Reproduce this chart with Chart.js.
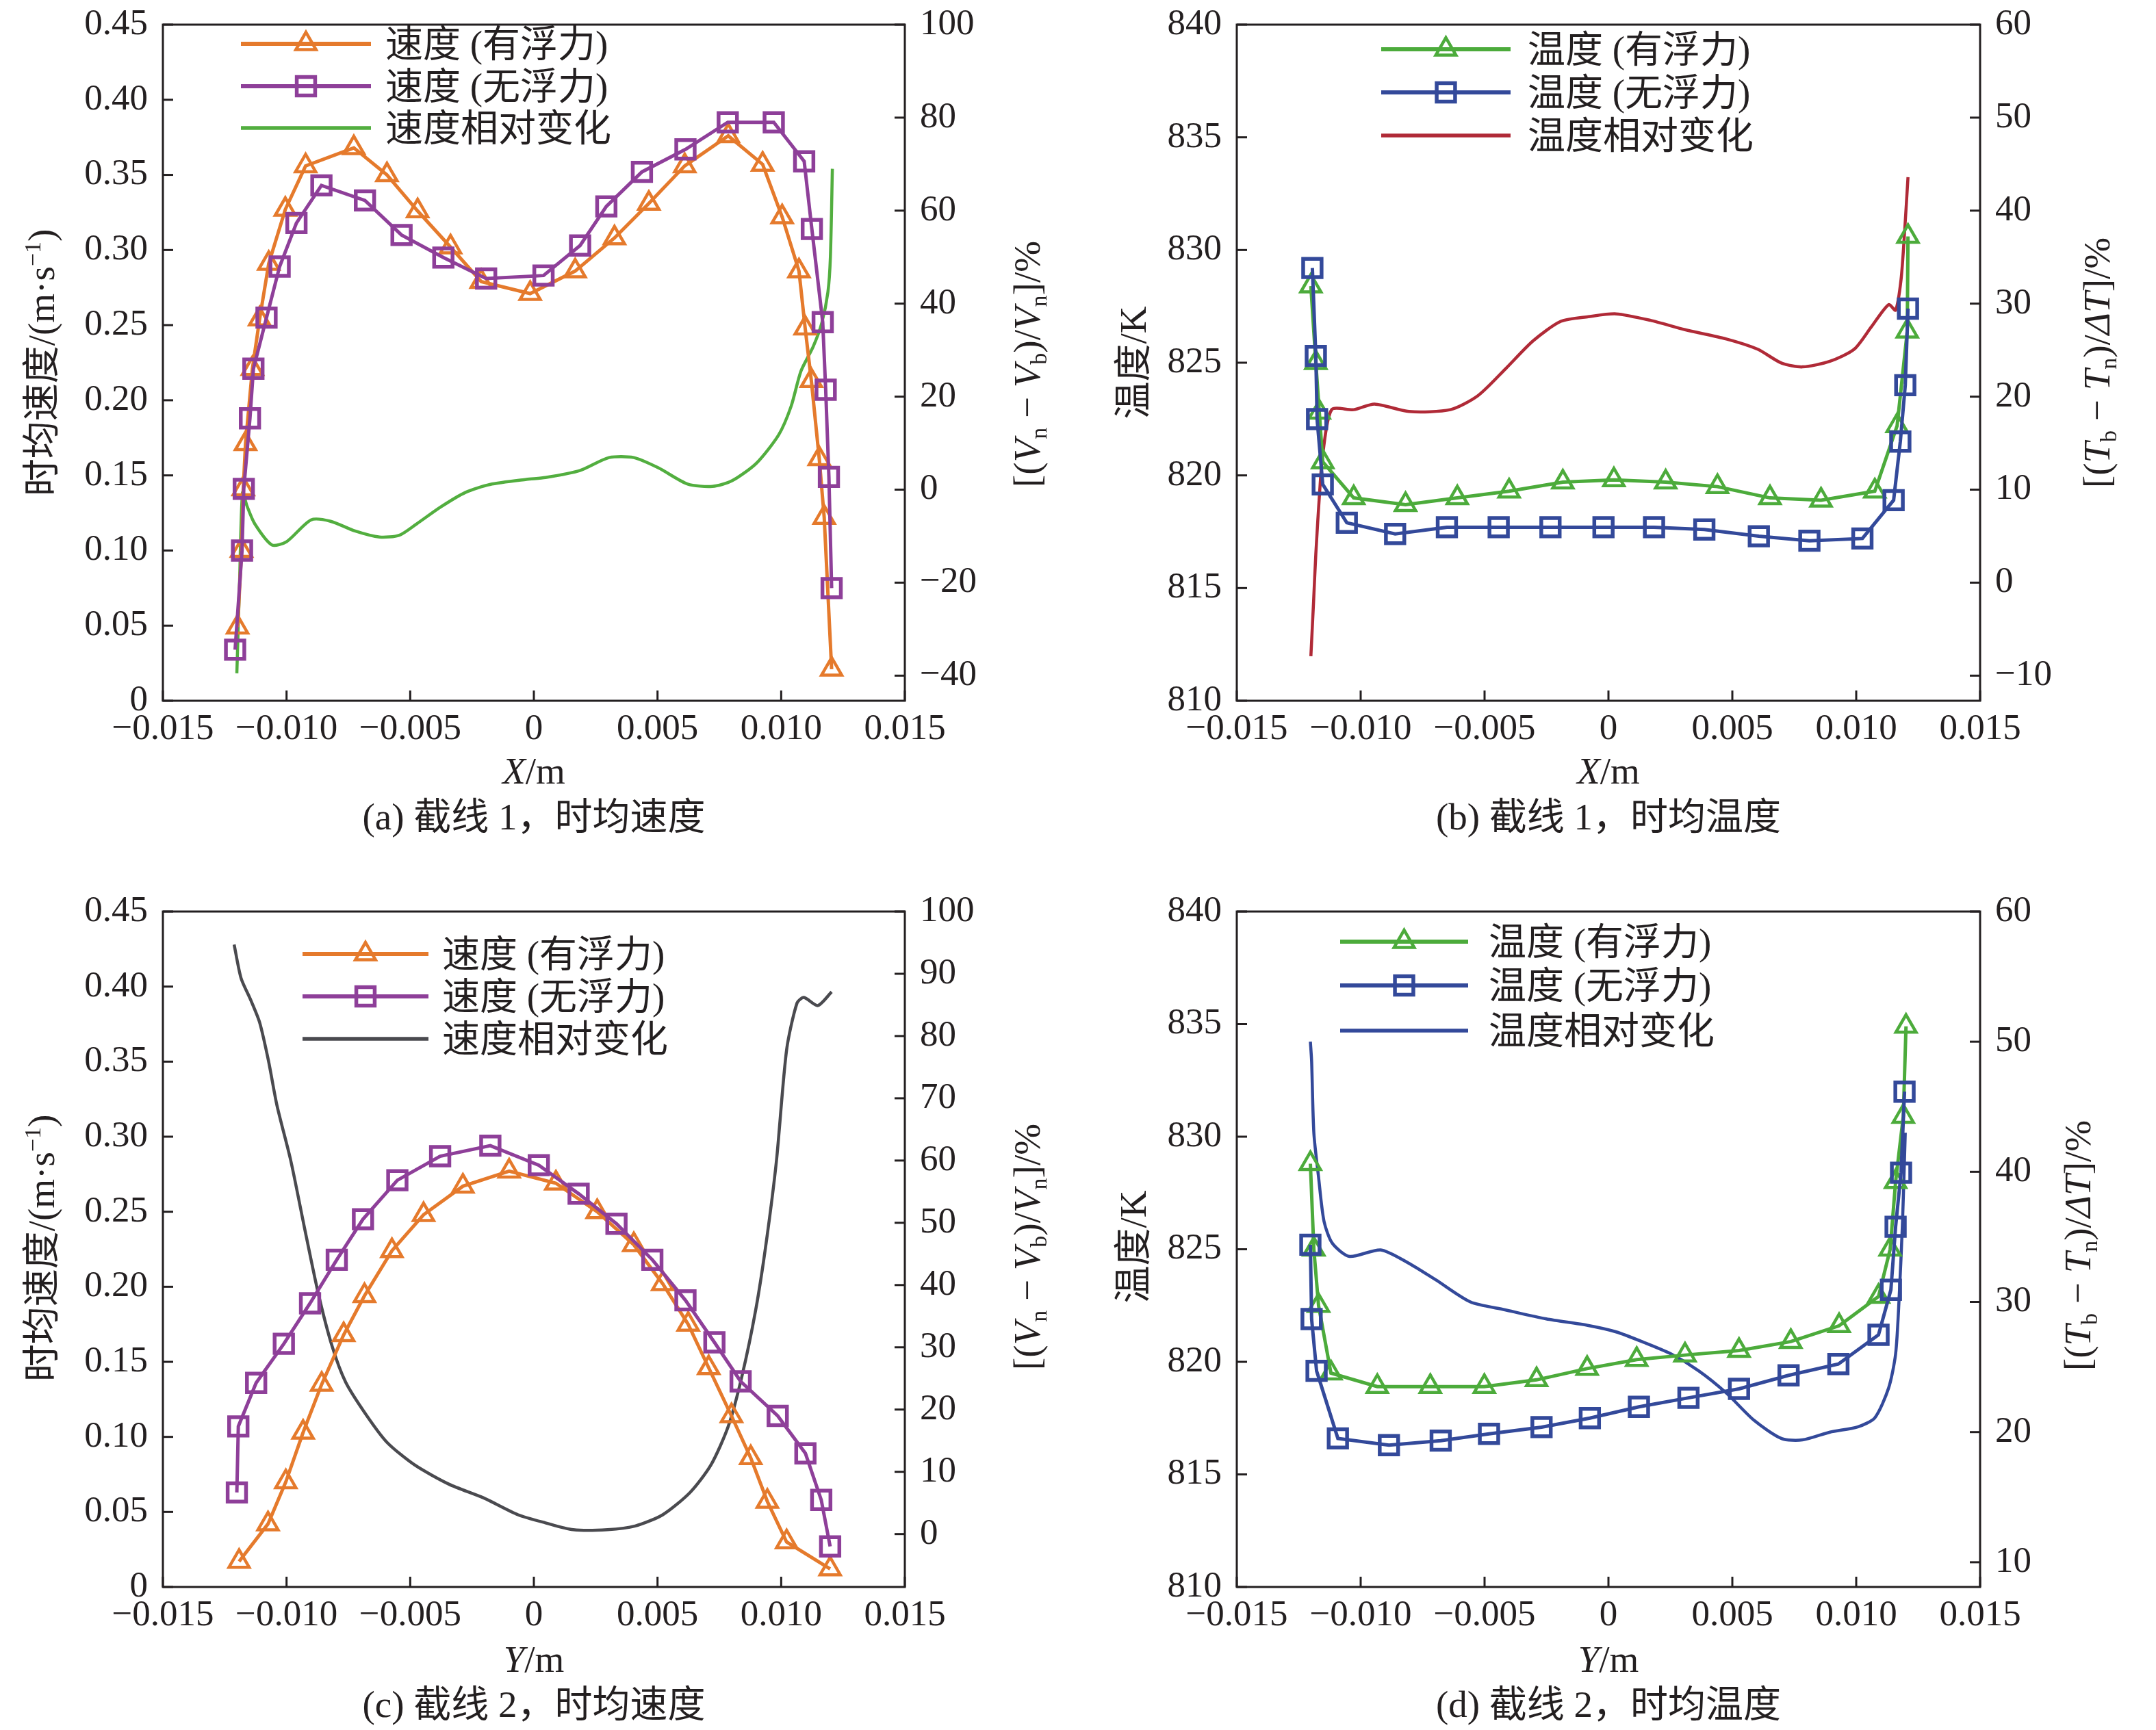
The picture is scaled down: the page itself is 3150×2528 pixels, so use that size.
<!DOCTYPE html>
<html>
<head>
<meta charset="utf-8">
<script src="https://cdn.jsdelivr.net/npm/chart.js@4.4.1/dist/chart.umd.min.js"></script>
<style>
  html, body { margin: 0; padding: 0; background: #fff; }
  body { width: 3150px; height: 2528px; position: relative; overflow: hidden; }
  .panel { position: absolute; width: 1575px; height: 1264px; }
  canvas { display: block; }
</style>
</head>
<body>
<div class="panel" style="left:0;top:0"><canvas id="pa" width="1575" height="1264"></canvas></div>
<div class="panel" style="left:1575px;top:0"><canvas id="pb" width="1575" height="1264"></canvas></div>
<div class="panel" style="left:0;top:1264px"><canvas id="pc" width="1575" height="1264"></canvas></div>
<div class="panel" style="left:1575px;top:1264px"><canvas id="pd" width="1575" height="1264"></canvas></div>
<script>
// ---------------- DATA ----------------
const xTicks = [-0.015, -0.010, -0.005, 0, 0.005, 0.010, 0.015];
const velTicks = [0, 0.05, 0.10, 0.15, 0.20, 0.25, 0.30, 0.35, 0.40, 0.45];
const tempTicks = [810, 815, 820, 825, 830, 835, 840];
const aPctTicks = [-40, -20, 0, 20, 40, 60, 80, 100];
const bPctTicks = [-10, 0, 10, 20, 30, 40, 50, 60];
const cPctTicks = [0, 10, 20, 30, 40, 50, 60, 70, 80, 90, 100];
const dPctTicks = [10, 20, 30, 40, 50, 60];

const velLabels = ['速度 (有浮力)', '速度 (无浮力)', '速度相对变化'];
const tempLabels = ['温度 (有浮力)', '温度 (无浮力)', '温度相对变化'];
const captions = ['(a) 截线 1，时均速度', '(b) 截线 1，时均温度', '(c) 截线 2，时均速度', '(d) 截线 2，时均温度'];

// (a) section 1, velocity
const aBuoyX = [-0.01198, -0.01182, -0.01175, -0.01166, -0.01138, -0.01109, -0.01072, -0.01005, -0.00923, -0.00728, -0.00594, -0.00470, -0.00337, -0.00213, -0.00015, 0.00167, 0.00326, 0.00465, 0.00610, 0.00786, 0.00925, 0.01004, 0.01072, 0.01097, 0.01122, 0.01154, 0.01174, 0.01204];
const aBuoyV = [0.049, 0.100, 0.141, 0.171, 0.221, 0.254, 0.291, 0.327, 0.356, 0.368, 0.350, 0.326, 0.302, 0.279, 0.271, 0.286, 0.308, 0.331, 0.356, 0.376, 0.357, 0.322, 0.286, 0.248, 0.213, 0.161, 0.122, 0.021];
const aNoBuoyX = [-0.01208, -0.01180, -0.01173, -0.01148, -0.01134, -0.01081, -0.01028, -0.00960, -0.00859, -0.00683, -0.00535, -0.00366, -0.00193, 0.00039, 0.00187, 0.00293, 0.00437, 0.00613, 0.00784, 0.00970, 0.01093, 0.01124, 0.01168, 0.01180, 0.01193, 0.01204];
const aNoBuoyV = [0.034, 0.100, 0.141, 0.188, 0.221, 0.255, 0.289, 0.318, 0.343, 0.333, 0.310, 0.295, 0.281, 0.283, 0.303, 0.329, 0.352, 0.367, 0.385, 0.385, 0.359, 0.314, 0.252, 0.207, 0.149, 0.075];
const aRelX = [-0.01201, -0.01190, -0.01178, -0.01160, -0.01128, -0.01059, -0.01000, -0.00901, -0.00822, -0.00723, -0.00624, -0.00544, -0.00475, -0.00376, -0.00277, -0.00178, -0.00030, 0.00047, 0.00186, 0.00304, 0.00404, 0.00503, 0.00622, 0.00722, 0.00801, 0.00900, 0.00990, 0.01040, 0.01080, 0.01129, 0.01164, 0.01189, 0.01199, 0.01207];
const aRelPct = [-39.5, -20.0, -0.6, -3.5, -7.4, -11.9, -11.2, -6.5, -6.8, -8.9, -10.2, -9.8, -7.4, -3.7, -0.6, 1.1, 2.2, 2.6, 4.1, 6.9, 6.9, 4.7, 1.2, 0.7, 1.9, 5.7, 11.8, 17.9, 25.5, 30.7, 35.8, 42.5, 50.0, 69.0];

// (b) section 1, temperature
const bBuoyX = [-0.01201, -0.01181, -0.01167, -0.01153, -0.01028, -0.00819, -0.00610, -0.00401, -0.00184, 0.00022, 0.00231, 0.00440, 0.00652, 0.00858, 0.01075, 0.01165, 0.01206, 0.01209];
const bBuoyT = [828.4, 825.0, 822.8, 820.6, 819.0, 818.7, 819.0, 819.3, 819.7, 819.8, 819.7, 819.5, 819.0, 818.9, 819.3, 822.2, 826.4, 830.6];
const bNoBuoyX = [-0.01195, -0.01181, -0.01176, -0.01153, -0.01056, -0.00861, -0.00652, -0.00443, -0.00234, -0.00020, 0.00184, 0.00387, 0.00607, 0.00811, 0.01025, 0.01151, 0.01178, 0.01198, 0.01209];
const bNoBuoyT = [829.2, 825.3, 822.5, 819.6, 817.9, 817.4, 817.7, 817.7, 817.7, 817.7, 817.7, 817.6, 817.3, 817.1, 817.2, 818.9, 821.5, 824.0, 827.4];
const bRelX = [-0.01201, -0.01190, -0.01181, -0.01165, -0.01153, -0.01117, -0.01028, -0.00944, -0.00805, -0.00638, -0.00527, -0.00415, -0.00304, -0.00192, -0.00081, 0.00031, 0.00170, 0.00309, 0.00476, 0.00602, 0.00699, 0.00783, 0.00894, 0.00992, 0.01061, 0.01131, 0.01159, 0.01181, 0.01195, 0.01209];
const bRelPct = [-7.9, -2.0, 3.1, 10.0, 13.8, 18.6, 18.6, 19.2, 18.4, 18.6, 20.1, 23.0, 26.0, 28.1, 28.6, 28.9, 28.2, 27.2, 26.2, 25.1, 23.6, 23.2, 23.8, 25.1, 27.5, 29.9, 29.3, 32.6, 37.6, 43.6];

// (c) section 2, velocity
const cBuoyY = [-0.01192, -0.01075, -0.01003, -0.00933, -0.00858, -0.00769, -0.00685, -0.00574, -0.00446, -0.00287, -0.00100, 0.00089, 0.00256, 0.00404, 0.00521, 0.00624, 0.00707, 0.00799, 0.00877, 0.00944, 0.01022, 0.01198];
const cBuoyV = [0.017, 0.042, 0.070, 0.103, 0.135, 0.168, 0.194, 0.224, 0.248, 0.267, 0.277, 0.269, 0.250, 0.228, 0.202, 0.175, 0.146, 0.114, 0.086, 0.057, 0.030, 0.012];
const cNoBuoyY = [-0.01201, -0.01195, -0.01123, -0.01011, -0.00905, -0.00797, -0.00691, -0.00552, -0.00379, -0.00176, 0.00020, 0.00181, 0.00334, 0.00479, 0.00613, 0.00730, 0.00836, 0.00986, 0.01098, 0.01162, 0.01198];
const cNoBuoyV = [0.063, 0.107, 0.136, 0.162, 0.189, 0.218, 0.245, 0.271, 0.287, 0.294, 0.281, 0.262, 0.242, 0.218, 0.191, 0.163, 0.137, 0.114, 0.089, 0.058, 0.027];
const cRelY = [-0.01212, -0.01184, -0.01145, -0.01109, -0.01073, -0.01039, -0.00983, -0.00928, -0.00872, -0.00816, -0.00761, -0.00677, -0.00593, -0.00482, -0.00343, -0.00203, -0.00064, 0.00047, 0.00159, 0.00298, 0.00410, 0.00521, 0.00632, 0.00716, 0.00786, 0.00841, 0.00897, 0.00939, 0.00981, 0.01022, 0.01064, 0.01092, 0.01148, 0.01204];
const cRelPct = [94.7, 89.3, 85.8, 82.2, 76.0, 68.9, 60.0, 49.3, 38.7, 30.2, 24.4, 19.1, 14.7, 11.1, 8.0, 5.8, 3.1, 1.8, 0.7, 0.7, 1.3, 3.1, 6.7, 11.1, 17.3, 25.3, 36.0, 46.7, 60.0, 77.8, 85.3, 86.2, 84.9, 87.1];

// (d) section 2, temperature
const dBuoyY = [-0.01203, -0.01189, -0.01170, -0.01120, -0.00933, -0.00719, -0.00501, -0.00290, -0.00086, 0.00114, 0.00309, 0.00527, 0.00736, 0.00931, 0.01090, 0.01137, 0.01159, 0.01190, 0.01201];
const dBuoyT = [828.8, 825.0, 822.5, 819.5, 818.9, 818.9, 818.9, 819.2, 819.7, 820.1, 820.3, 820.5, 820.9, 821.6, 822.9, 825.0, 828.0, 830.9, 834.9];
const dNoBuoyY = [-0.01203, -0.01198, -0.01178, -0.01092, -0.00886, -0.00677, -0.00482, -0.00270, -0.00075, 0.00123, 0.00323, 0.00527, 0.00727, 0.00928, 0.01090, 0.01140, 0.01159, 0.01181, 0.01195];
const dNoBuoyT = [825.2, 821.9, 819.6, 816.6, 816.3, 816.5, 816.8, 817.1, 817.5, 818.0, 818.4, 818.8, 819.4, 819.9, 821.2, 823.2, 826.0, 828.4, 832.0];
const dRelY = [-0.01203, -0.01198, -0.01189, -0.01170, -0.01148, -0.01114, -0.01045, -0.00919, -0.00808, -0.00697, -0.00557, -0.00418, -0.00251, -0.00084, 0.00031, 0.00142, 0.00253, 0.00365, 0.00476, 0.00588, 0.00699, 0.00783, 0.00894, 0.01006, 0.01075, 0.01131, 0.01159, 0.01173, 0.01187, 0.01198];
const dRelPct = [50.0, 48.5, 43.0, 39.6, 36.2, 34.5, 33.5, 34.0, 33.0, 31.7, 30.0, 29.4, 28.7, 28.2, 27.7, 26.9, 26.0, 24.7, 23.0, 20.9, 19.5, 19.4, 20.0, 20.4, 21.1, 23.4, 26.0, 30.2, 36.2, 43.0];

// ---------------- STYLE ----------------
const FONT = '"Liberation Serif","Noto Sans CJK SC",serif';
const INK = '#231f20';
const C_ORANGE = '#e57a2c', C_PURPLE = '#8e3f99', C_GREEN_A = '#52ae3f',
      C_GREEN = '#4cab3b', C_BLUE = '#33499a', C_RED = '#b02a37', C_GRAY = '#4a4a4f';
const TICK_SIZE = 53, TEXT_SIZE = 55;

function pts(xs, ys) { return xs.map((x, i) => ({ x: x, y: ys[i] })); }
function fmtX(v) { if (Math.abs(v) < 1e-12) return '0'; return (v < 0 ? '\u2212' : '') + Math.abs(v).toFixed(3); }
function fmtVel(v) { if (Math.abs(v) < 1e-12) return '0'; return v.toFixed(2); }
function fmtInt(v) { return (v < 0 ? '\u2212' : '') + Math.abs(Math.round(v)); }

function drawRich(ctx, item) {
  const size = item.size || TEXT_SIZE;
  ctx.save();
  ctx.translate(item.x, item.y);
  if (item.rot) ctx.rotate(item.rot);
  const fontFor = r => (r.i ? 'italic ' : '') + ((r.sub || r.sup) ? Math.round(size * 0.62) : size) + 'px ' + FONT;
  let w = 0;
  for (const r of item.runs) { ctx.font = fontFor(r); w += ctx.measureText(r.t).width; }
  let x = item.align === 'left' ? 0 : -w / 2;
  const base = size * 0.35;
  ctx.fillStyle = INK; ctx.textBaseline = 'alphabetic'; ctx.textAlign = 'left';
  for (const r of item.runs) {
    ctx.font = fontFor(r);
    const dy = r.sub ? size * 0.18 : (r.sup ? -size * 0.36 : 0);
    ctx.fillText(r.t, x, base + dy);
    x += ctx.measureText(r.t).width;
  }
  ctx.restore();
}

const DECO = {};
const decoPlugin = {
  id: 'deco',
  beforeDatasetsDraw(chart) {
    const ctx = chart.ctx, a = chart.chartArea, L = 15;
    ctx.save();
    ctx.strokeStyle = INK; ctx.lineWidth = 3;
    ['x', 'y', 'y2'].forEach(id => {
      const s = chart.scales[id];
      s.ticks.forEach(t => {
        const p = s.getPixelForValue(t.value);
        ctx.beginPath();
        if (id === 'x') { ctx.moveTo(p, a.bottom); ctx.lineTo(p, a.bottom - L); }
        else if (id === 'y') { ctx.moveTo(a.left, p); ctx.lineTo(a.left + L, p); }
        else { ctx.moveTo(a.right, p); ctx.lineTo(a.right - L, p); }
        ctx.stroke();
      });
    });
    ctx.restore();
  },
  afterDraw(chart) {
    const cfg = DECO[chart.canvas.id];
    const ctx = chart.ctx, a = chart.chartArea;
    ctx.save();
    ctx.strokeStyle = INK; ctx.lineWidth = 3;
    ctx.strokeRect(a.left, a.top, a.right - a.left, a.bottom - a.top);
    const lg = cfg.legend;
    chart.data.datasets.forEach((ds, i) => {
      const y = lg.rows[i];
      ctx.save();
      ctx.strokeStyle = ds.borderColor; ctx.lineWidth = ds.borderWidth + 1;
      ctx.lineCap = 'butt';
      ctx.beginPath(); ctx.moveTo(lg.x0, y); ctx.lineTo(lg.x1, y); ctx.stroke();
      if (ds.pointRadius > 0) {
        ctx.strokeStyle = ds.pointBorderColor; ctx.fillStyle = 'rgba(0,0,0,0)';
        ctx.lineWidth = ds.pointBorderWidth;
        Chart.helpers.drawPoint(ctx, { pointStyle: ds.pointStyle, radius: ds.pointRadius, borderWidth: ds.pointBorderWidth, rotation: 0 }, (lg.x0 + lg.x1) / 2, y);
      }
      ctx.restore();
      drawRich(ctx, { runs: [{ t: ds.label }], x: lg.tx, y: y, align: 'left' });
    });
    cfg.texts.forEach(t => drawRich(ctx, t));
    ctx.restore();
  }
};

function makePanel(id, p) {
  const g = p.geom;
  DECO[id] = { legend: p.legend, texts: p.texts };
  const W = 1575, H = 1264;
  const noPadV = s => { s.paddingTop = 0; s.paddingBottom = 0; };
  new Chart(document.getElementById(id), {
    type: 'line',
    data: {
      datasets: [
        { label: p.labels[0], data: p.s1, yAxisID: 'y', order: 2,
          borderColor: p.c1, borderWidth: 5, tension: 0, fill: false,
          pointStyle: 'triangle', pointRadius: 17, pointBorderWidth: 4.5,
          pointBorderColor: p.c1, pointBackgroundColor: 'rgba(0,0,0,0)' },
        { label: p.labels[1], data: p.s2, yAxisID: 'y', order: 1,
          borderColor: p.c2, borderWidth: 5, tension: 0, fill: false,
          pointStyle: 'rect', pointRadius: 19, pointBorderWidth: 5.5,
          pointBorderColor: p.c2, pointBackgroundColor: 'rgba(0,0,0,0)' },
        { label: p.labels[2], data: p.s3, yAxisID: 'y2', order: 3,
          borderColor: p.c3, borderWidth: 4.5, tension: 0.25, fill: false,
          pointRadius: 0, pointStyle: 'circle', pointBorderWidth: 0, pointBorderColor: p.c3 }
      ]
    },
    options: {
      responsive: false, animation: false, devicePixelRatio: 1,
      layout: { padding: { top: g.top, left: 0, right: 0, bottom: 0 } },
      plugins: { legend: { display: false }, tooltip: { enabled: false } },
      scales: {
        x: {
          type: 'linear', position: 'bottom', min: -0.015, max: 0.015,
          grid: { display: false, drawTicks: false }, border: { display: false },
          afterBuildTicks: s => { s.ticks = xTicks.map(v => ({ value: v })); },
          afterFit: s => { s.height = H - g.bottom; s.paddingLeft = 0; s.paddingRight = 0; },
          ticks: { padding: 10, maxRotation: 0, autoSkip: false, color: INK,
                   font: { family: FONT, size: TICK_SIZE }, callback: v => fmtX(v) }
        },
        y: {
          type: 'linear', position: 'left', min: p.yMin, max: p.yMax,
          grid: { display: false, drawTicks: false }, border: { display: false },
          afterBuildTicks: s => { s.ticks = p.yTicks.map(v => ({ value: v })); },
          afterFit: s => { s.width = g.left; noPadV(s); },
          ticks: { padding: 22, autoSkip: false, color: INK,
                   font: { family: FONT, size: TICK_SIZE }, callback: p.yFmt }
        },
        y2: {
          type: 'linear', position: 'right', min: p.y2Min, max: p.y2Max,
          grid: { display: false, drawTicks: false }, border: { display: false },
          afterBuildTicks: s => { s.ticks = p.y2Ticks.map(v => ({ value: v })); },
          afterFit: s => { s.width = W - g.right; noPadV(s); },
          ticks: { padding: 22, autoSkip: false, color: INK,
                   font: { family: FONT, size: TICK_SIZE }, callback: v => fmtInt(v) }
        }
      }
    },
    plugins: [decoPlugin]
  });
}

const ROT = -Math.PI / 2;
const velTitle = [{ t: '时均速度/(m·s' }, { t: '\u22121', sup: true }, { t: ')' }];
const tempTitle = [{ t: '温度/K' }];
const velPctTitle = [{ t: '[(' }, { t: 'V', i: true }, { t: 'n', sub: true }, { t: ' \u2212 ' }, { t: 'V', i: true }, { t: 'b', sub: true }, { t: ')/' }, { t: 'V', i: true }, { t: 'n', sub: true }, { t: ']/%' }];
const tempPctTitle = [{ t: '[(' }, { t: 'T', i: true }, { t: 'b', sub: true }, { t: ' \u2212 ' }, { t: 'T', i: true }, { t: 'n', sub: true }, { t: ')/' }, { t: '\u0394T', i: true }, { t: ']/%' }];
const xTitle = [{ t: 'X', i: true }, { t: '/m' }];
const yTitle = [{ t: 'Y', i: true }, { t: '/m' }];

makePanel('pa', {
  geom: { left: 238, right: 1322, top: 36, bottom: 1024 },
  labels: velLabels, c1: C_ORANGE, c2: C_PURPLE, c3: C_GREEN_A,
  s1: pts(aBuoyX, aBuoyV), s2: pts(aNoBuoyX, aNoBuoyV), s3: pts(aRelX, aRelPct),
  yMin: 0, yMax: 0.45, yTicks: velTicks, yFmt: v => fmtVel(v),
  y2Min: -45.4, y2Max: 100, y2Ticks: aPctTicks,
  legend: { x0: 352, x1: 542, tx: 563, rows: [64, 126, 187] },
  texts: [
    { runs: xTitle, x: 780, y: 1126 },
    { runs: [{ t: captions[0] }], x: 780, y: 1193 },
    { runs: velTitle, x: 60, y: 530, rot: ROT },
    { runs: velPctTitle, x: 1500, y: 532, rot: ROT }
  ]
});

makePanel('pb', {
  geom: { left: 232, right: 1318, top: 36, bottom: 1024 },
  labels: tempLabels, c1: C_GREEN, c2: C_BLUE, c3: C_RED,
  s1: pts(bBuoyX, bBuoyT), s2: pts(bNoBuoyX, bNoBuoyT), s3: pts(bRelX, bRelPct),
  yMin: 810, yMax: 840, yTicks: tempTicks, yFmt: v => String(v),
  y2Min: -12.7, y2Max: 60, y2Ticks: bPctTicks,
  legend: { x0: 443, x1: 632, tx: 657, rows: [72, 135, 198] },
  texts: [
    { runs: xTitle, x: 775, y: 1126 },
    { runs: [{ t: captions[1] }], x: 775, y: 1193 },
    { runs: tempTitle, x: 80, y: 530, rot: ROT },
    { runs: tempPctTitle, x: 1488, y: 530, rot: ROT }
  ]
});

makePanel('pc', {
  geom: { left: 238, right: 1322, top: 68, bottom: 1055 },
  labels: velLabels, c1: C_ORANGE, c2: C_PURPLE, c3: C_GRAY,
  s1: pts(cBuoyY, cBuoyV), s2: pts(cNoBuoyY, cNoBuoyV), s3: pts(cRelY, cRelPct),
  yMin: 0, yMax: 0.45, yTicks: velTicks, yFmt: v => fmtVel(v),
  y2Min: -8.5, y2Max: 100, y2Ticks: cPctTicks,
  legend: { x0: 442, x1: 626, tx: 646, rows: [130, 192, 254] },
  texts: [
    { runs: yTitle, x: 780, y: 1160 },
    { runs: [{ t: captions[2] }], x: 780, y: 1226 },
    { runs: velTitle, x: 60, y: 560, rot: ROT },
    { runs: velPctTitle, x: 1500, y: 558, rot: ROT }
  ]
});

makePanel('pd', {
  geom: { left: 232, right: 1318, top: 68, bottom: 1055 },
  labels: tempLabels, c1: C_GREEN, c2: C_BLUE, c3: C_BLUE,
  s1: pts(dBuoyY, dBuoyT), s2: pts(dNoBuoyY, dNoBuoyT), s3: pts(dRelY, dRelPct),
  yMin: 810, yMax: 840, yTicks: tempTicks, yFmt: v => String(v),
  y2Min: 8.1, y2Max: 60, y2Ticks: dPctTicks,
  legend: { x0: 383, x1: 570, tx: 600, rows: [112, 176, 242] },
  texts: [
    { runs: yTitle, x: 775, y: 1160 },
    { runs: [{ t: captions[3] }], x: 775, y: 1226 },
    { runs: tempTitle, x: 80, y: 558, rot: ROT },
    { runs: tempPctTitle, x: 1460, y: 556, rot: ROT }
  ]
});
</script>
</body>
</html>
